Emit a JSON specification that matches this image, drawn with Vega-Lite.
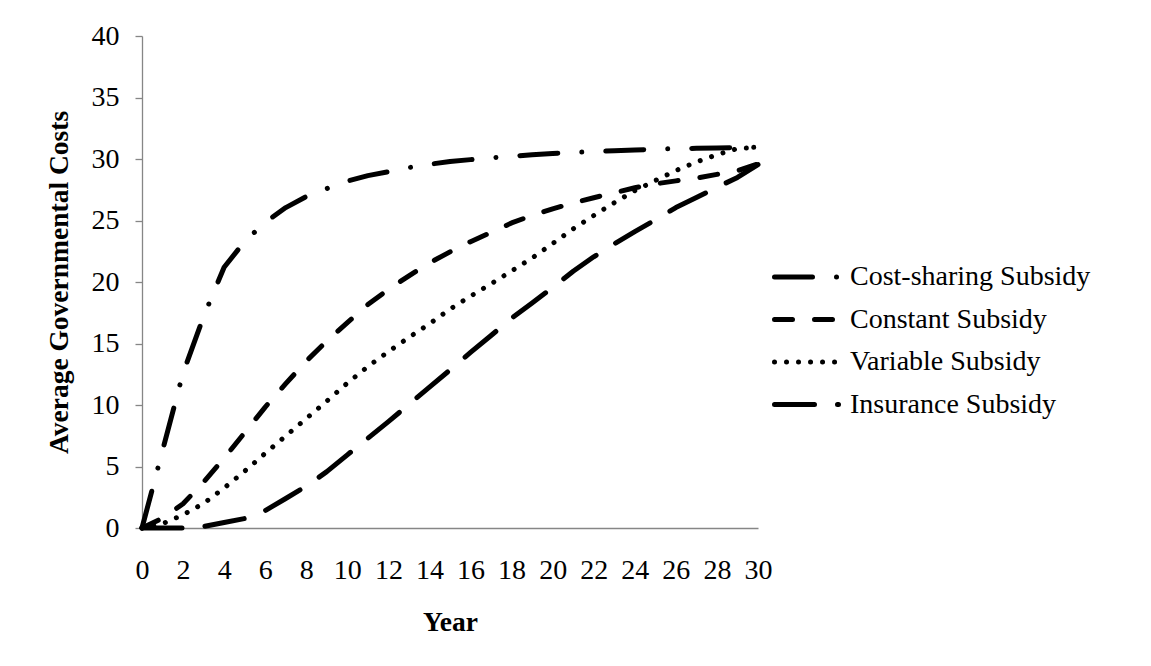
{
  "$schema": "https://vega.github.io/schema/vega-lite/v6.json",
  "autosize": {"type": "none"},
  "width": 616,
  "height": 492,
  "padding": {"left": 142, "top": 36, "right": 393, "bottom": 138},
  "background": "white",
  "config": {
    "view": {"stroke": null},
    "font": "Liberation Serif",
    "axis": {"grid": false, "labelFont": "Liberation Serif", "titleFont": "Liberation Serif", "labelFontSize": 28, "titleFontSize": 27.5, "labelColor": "black", "titleColor": "black", "domainColor": "#868686", "tickColor": "#868686", "domainWidth": 1.3, "tickWidth": 1.3},
    "legend": {"labelFont": "Liberation Serif", "labelFontSize": 28, "labelColor": "black", "labelLimit": 0}
  },
  "data": {"values": [
    {"year":0,"series":"Cost-sharing Subsidy","value":0},
    {"year":1,"series":"Cost-sharing Subsidy","value":6.3},
    {"year":2,"series":"Cost-sharing Subsidy","value":12.6},
    {"year":3,"series":"Cost-sharing Subsidy","value":17.2},
    {"year":4,"series":"Cost-sharing Subsidy","value":21.2},
    {"year":5,"series":"Cost-sharing Subsidy","value":23.3},
    {"year":6,"series":"Cost-sharing Subsidy","value":24.85},
    {"year":7,"series":"Cost-sharing Subsidy","value":26.05},
    {"year":8,"series":"Cost-sharing Subsidy","value":26.95},
    {"year":9,"series":"Cost-sharing Subsidy","value":27.6},
    {"year":10,"series":"Cost-sharing Subsidy","value":28.2},
    {"year":11,"series":"Cost-sharing Subsidy","value":28.65},
    {"year":12,"series":"Cost-sharing Subsidy","value":28.97},
    {"year":13,"series":"Cost-sharing Subsidy","value":29.3},
    {"year":14,"series":"Cost-sharing Subsidy","value":29.57},
    {"year":15,"series":"Cost-sharing Subsidy","value":29.8},
    {"year":16,"series":"Cost-sharing Subsidy","value":29.95},
    {"year":17,"series":"Cost-sharing Subsidy","value":30.1},
    {"year":18,"series":"Cost-sharing Subsidy","value":30.22},
    {"year":19,"series":"Cost-sharing Subsidy","value":30.35},
    {"year":20,"series":"Cost-sharing Subsidy","value":30.45},
    {"year":21,"series":"Cost-sharing Subsidy","value":30.53},
    {"year":22,"series":"Cost-sharing Subsidy","value":30.6},
    {"year":23,"series":"Cost-sharing Subsidy","value":30.67},
    {"year":24,"series":"Cost-sharing Subsidy","value":30.73},
    {"year":25,"series":"Cost-sharing Subsidy","value":30.8},
    {"year":26,"series":"Cost-sharing Subsidy","value":30.84},
    {"year":27,"series":"Cost-sharing Subsidy","value":30.87},
    {"year":28,"series":"Cost-sharing Subsidy","value":30.9},
    {"year":29,"series":"Cost-sharing Subsidy","value":30.93},
    {"year":30,"series":"Cost-sharing Subsidy","value":30.95},
    {"year":0,"series":"Constant Subsidy","value":0},
    {"year":1,"series":"Constant Subsidy","value":0.8},
    {"year":2,"series":"Constant Subsidy","value":1.97},
    {"year":3,"series":"Constant Subsidy","value":3.73},
    {"year":4,"series":"Constant Subsidy","value":5.68},
    {"year":5,"series":"Constant Subsidy","value":7.75},
    {"year":6,"series":"Constant Subsidy","value":9.83},
    {"year":7,"series":"Constant Subsidy","value":11.73},
    {"year":8,"series":"Constant Subsidy","value":13.57},
    {"year":9,"series":"Constant Subsidy","value":15.2},
    {"year":10,"series":"Constant Subsidy","value":16.7},
    {"year":11,"series":"Constant Subsidy","value":18.17},
    {"year":12,"series":"Constant Subsidy","value":19.4},
    {"year":13,"series":"Constant Subsidy","value":20.5},
    {"year":14,"series":"Constant Subsidy","value":21.55},
    {"year":15,"series":"Constant Subsidy","value":22.45},
    {"year":16,"series":"Constant Subsidy","value":23.28},
    {"year":17,"series":"Constant Subsidy","value":24.03},
    {"year":18,"series":"Constant Subsidy","value":24.8},
    {"year":19,"series":"Constant Subsidy","value":25.42},
    {"year":20,"series":"Constant Subsidy","value":25.95},
    {"year":21,"series":"Constant Subsidy","value":26.42},
    {"year":22,"series":"Constant Subsidy","value":26.85},
    {"year":23,"series":"Constant Subsidy","value":27.25},
    {"year":24,"series":"Constant Subsidy","value":27.66},
    {"year":25,"series":"Constant Subsidy","value":27.98},
    {"year":26,"series":"Constant Subsidy","value":28.22},
    {"year":27,"series":"Constant Subsidy","value":28.45},
    {"year":28,"series":"Constant Subsidy","value":28.75},
    {"year":29,"series":"Constant Subsidy","value":29.05},
    {"year":30,"series":"Constant Subsidy","value":29.6},
    {"year":0,"series":"Variable Subsidy","value":0},
    {"year":1,"series":"Variable Subsidy","value":0.35},
    {"year":2,"series":"Variable Subsidy","value":1.07},
    {"year":3,"series":"Variable Subsidy","value":2.0},
    {"year":4,"series":"Variable Subsidy","value":3.25},
    {"year":5,"series":"Variable Subsidy","value":4.62},
    {"year":6,"series":"Variable Subsidy","value":6.07},
    {"year":7,"series":"Variable Subsidy","value":7.48},
    {"year":8,"series":"Variable Subsidy","value":8.9},
    {"year":9,"series":"Variable Subsidy","value":10.32},
    {"year":10,"series":"Variable Subsidy","value":11.78},
    {"year":11,"series":"Variable Subsidy","value":13.13},
    {"year":12,"series":"Variable Subsidy","value":14.34},
    {"year":13,"series":"Variable Subsidy","value":15.5},
    {"year":14,"series":"Variable Subsidy","value":16.6},
    {"year":15,"series":"Variable Subsidy","value":17.8},
    {"year":16,"series":"Variable Subsidy","value":18.85},
    {"year":17,"series":"Variable Subsidy","value":19.85},
    {"year":18,"series":"Variable Subsidy","value":20.9},
    {"year":19,"series":"Variable Subsidy","value":21.95},
    {"year":20,"series":"Variable Subsidy","value":23.13},
    {"year":21,"series":"Variable Subsidy","value":24.32},
    {"year":22,"series":"Variable Subsidy","value":25.41},
    {"year":23,"series":"Variable Subsidy","value":26.45},
    {"year":24,"series":"Variable Subsidy","value":27.42},
    {"year":25,"series":"Variable Subsidy","value":28.25},
    {"year":26,"series":"Variable Subsidy","value":29.06},
    {"year":27,"series":"Variable Subsidy","value":29.76},
    {"year":28,"series":"Variable Subsidy","value":30.35},
    {"year":29,"series":"Variable Subsidy","value":30.85},
    {"year":30,"series":"Variable Subsidy","value":30.95},
    {"year":0,"series":"Insurance Subsidy","value":0},
    {"year":1,"series":"Insurance Subsidy","value":0},
    {"year":2,"series":"Insurance Subsidy","value":0},
    {"year":3,"series":"Insurance Subsidy","value":0.12},
    {"year":4,"series":"Insurance Subsidy","value":0.45},
    {"year":5,"series":"Insurance Subsidy","value":0.77},
    {"year":6,"series":"Insurance Subsidy","value":1.42},
    {"year":7,"series":"Insurance Subsidy","value":2.4},
    {"year":8,"series":"Insurance Subsidy","value":3.4},
    {"year":9,"series":"Insurance Subsidy","value":4.58},
    {"year":10,"series":"Insurance Subsidy","value":5.95},
    {"year":11,"series":"Insurance Subsidy","value":7.3},
    {"year":12,"series":"Insurance Subsidy","value":8.65},
    {"year":13,"series":"Insurance Subsidy","value":10.05},
    {"year":14,"series":"Insurance Subsidy","value":11.45},
    {"year":15,"series":"Insurance Subsidy","value":12.85},
    {"year":16,"series":"Insurance Subsidy","value":14.28},
    {"year":17,"series":"Insurance Subsidy","value":15.65},
    {"year":18,"series":"Insurance Subsidy","value":17.05},
    {"year":19,"series":"Insurance Subsidy","value":18.3},
    {"year":20,"series":"Insurance Subsidy","value":19.55},
    {"year":21,"series":"Insurance Subsidy","value":20.87},
    {"year":22,"series":"Insurance Subsidy","value":22.05},
    {"year":23,"series":"Insurance Subsidy","value":23.1},
    {"year":24,"series":"Insurance Subsidy","value":24.1},
    {"year":25,"series":"Insurance Subsidy","value":25.05},
    {"year":26,"series":"Insurance Subsidy","value":26.05},
    {"year":27,"series":"Insurance Subsidy","value":26.86},
    {"year":28,"series":"Insurance Subsidy","value":27.7},
    {"year":29,"series":"Insurance Subsidy","value":28.5},
    {"year":30,"series":"Insurance Subsidy","value":29.55}
  ]},
  "mark": {"type": "line", "color": "black", "strokeWidth": 5, "strokeCap": "round", "strokeJoin": "round"},
  "encoding": {
    "x": {"field": "year", "type": "quantitative",
      "scale": {"domain": [0, 30], "nice": false, "zero": true},
      "axis": {"values": [0,2,4,6,8,10,12,14,16,18,20,22,24,26,28,30], "ticks": false, "labelPadding": 28, "title": "Year", "titleFontWeight": "bold", "titlePadding": 24, "labelFlush": false}},
    "y": {"field": "value", "type": "quantitative",
      "scale": {"domain": [0, 40], "nice": false},
      "axis": {"values": [0,5,10,15,20,25,30,35,40], "tickSize": 7, "labelPadding": 16, "title": "Average Governmental Costs", "titleFontWeight": "bold", "titlePadding": 18}},
    "strokeDash": {"field": "series", "type": "nominal",
      "scale": {"domain": ["Cost-sharing Subsidy", "Constant Subsidy", "Variable Subsidy", "Insurance Subsidy"],
        "range": [[38, 24, 0.01, 24], [18, 22], [0.01, 12], [40, 23]]},
      "legend": {"title": null, "orient": "none", "legendX": 650.5, "legendY": 227, "symbolType": "M-4,0H4", "symbolSize": 256, "symbolStrokeWidth": 5, "symbolStrokeColor": "black", "labelOffset": 29.5, "rowPadding": 14.5, "padding": 0, "labelLimit": 0,
        "encode": {"symbols": {"update": {"strokeCap": {"value": "round"}}}}}}
  }
}
